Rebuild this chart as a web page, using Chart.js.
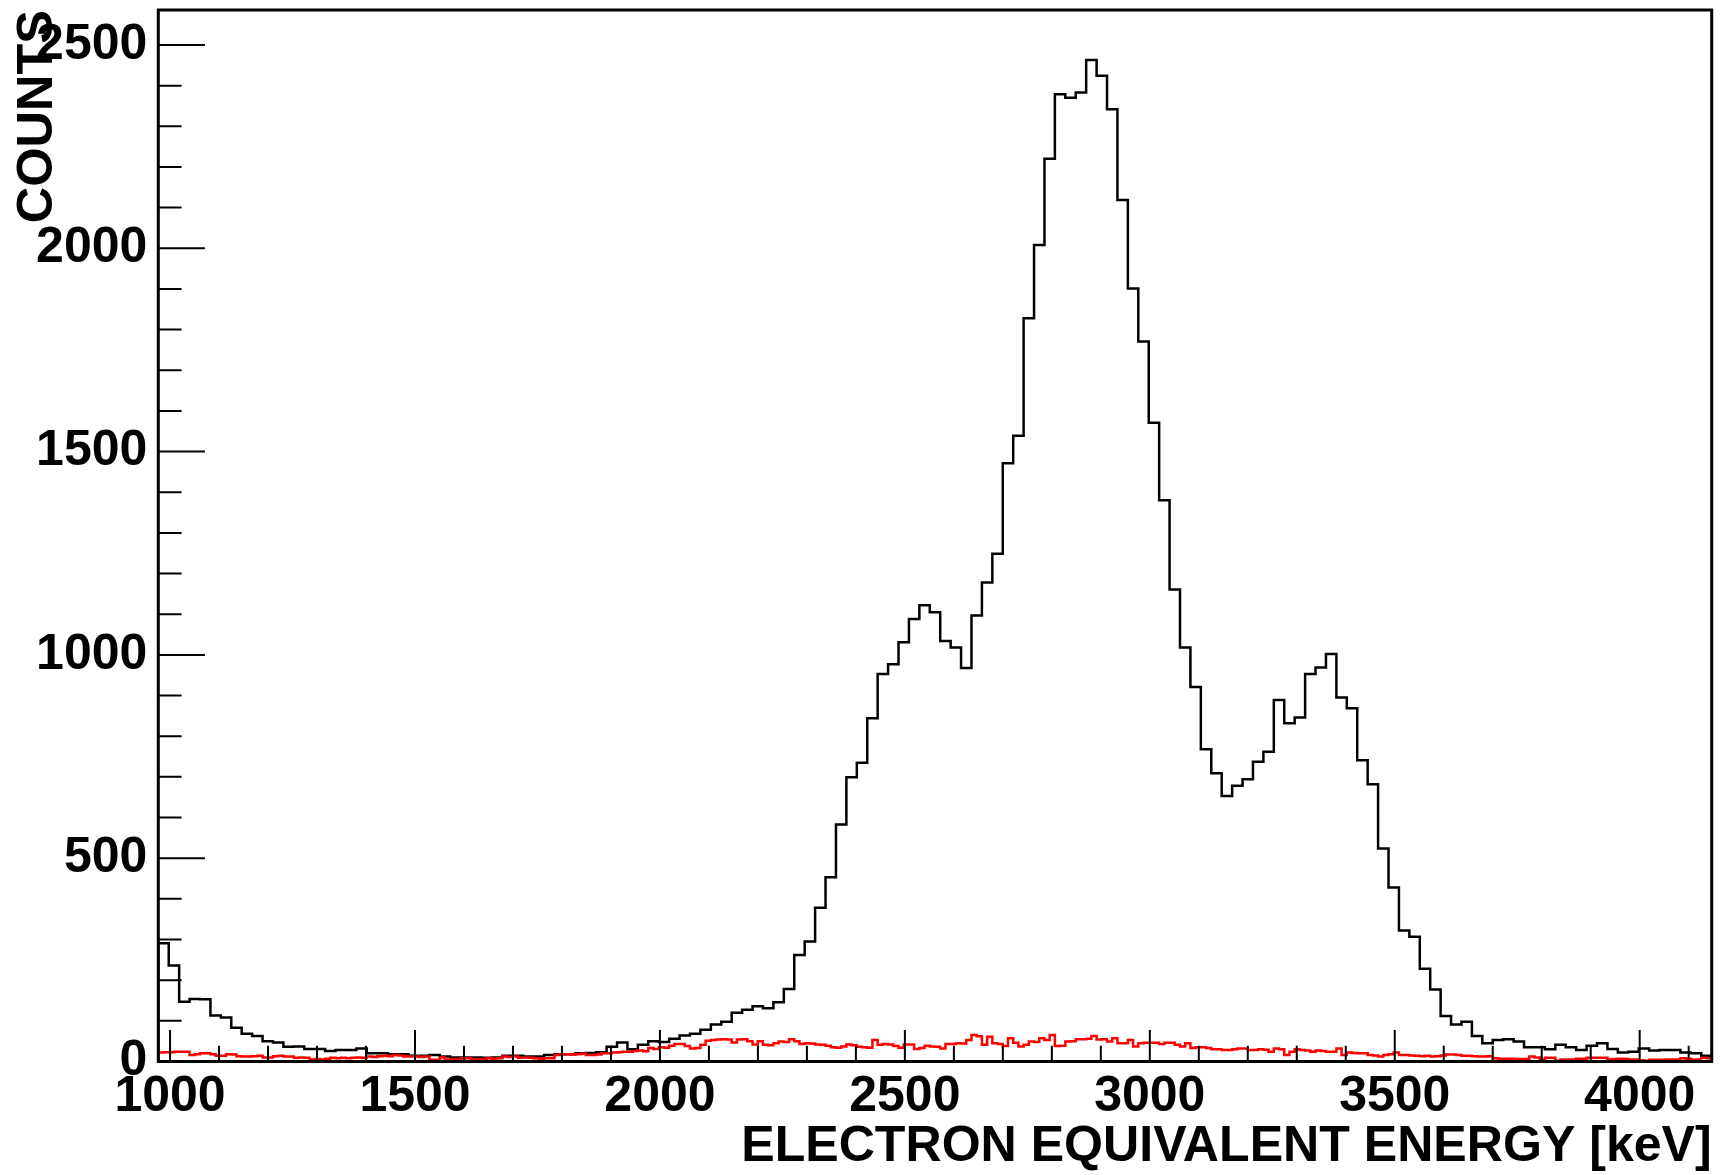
<!DOCTYPE html>
<html>
<head>
<meta charset="utf-8">
<script src="https://cdn.jsdelivr.net/npm/chart.js@4.4.1/dist/chart.umd.min.js"></script>
<style>
  html, body { margin: 0; padding: 0; background: #fff; }
  #wrap { width: 1722px; height: 1175px; position: relative; }
</style>
</head>
<body>
<div id="wrap"><canvas id="spectrum"></canvas></div>
<script>
// histogram range (keV) shared by both spectra
const E_MIN = 976;
const E_MAX = 4147;

// black spectrum, 149 bins
const blackCounts = [
  291, 236, 147, 154, 153, 113, 108, 83, 68, 63,
  50, 47, 36, 37, 31, 31, 26, 28, 28, 32,
  20, 20, 18, 18, 14, 14, 16, 12, 10, 10,
  10, 9, 10, 14, 14, 12, 12, 16, 18, 18,
  20, 21, 23, 36, 47, 30, 41, 50, 48, 56,
  64, 68, 78, 91, 98, 120, 127, 136, 131, 146,
  178, 262, 295, 378, 453, 583, 699, 735, 844, 953,
  977, 1031, 1088, 1122, 1105, 1034, 1018, 968, 1097, 1178,
  1249, 1471, 1539, 1828, 2008, 2220, 2379, 2370, 2383, 2463,
  2424, 2342, 2119, 1901, 1771, 1571, 1380, 1161, 1018, 921,
  768, 709, 653, 678, 694, 737, 762, 889, 832, 846,
  953, 969, 1002, 895, 869, 741, 682, 524, 428, 322,
  307, 228, 177, 112, 91, 98, 63, 45, 53, 55,
  49, 35, 35, 30, 41, 35, 28, 39, 45, 31,
  22, 24, 32, 27, 28, 28, 22, 20, 14
];

// red spectrum, 298 bins (half the black bin width)
const redCounts = [
  22, 23, 23, 24, 24, 24, 16, 18, 20, 20,
  18, 14, 14, 18, 17, 13, 12, 12, 13, 14,
  10, 10, 13, 14, 12, 12, 9, 10, 9, 5,
  6, 5, 7, 9, 8, 9, 8, 9, 10, 9,
  12, 11, 13, 14, 13, 16, 15, 12, 12, 12,
  11, 12, 4, 4, 10, 5, 6, 5, 8, 8,
  5, 6, 5, 8, 7, 8, 12, 11, 12, 9,
  10, 9, 8, 7, 8, 8, 16, 17, 18, 17,
  18, 19, 16, 16, 17, 20, 20, 22, 23, 24,
  24, 26, 27, 25, 33, 31, 35, 34, 39, 43,
  43, 38, 32, 33, 41, 51, 53, 54, 55, 54,
  47, 54, 55, 50, 42, 50, 41, 40, 45, 49,
  48, 55, 50, 43, 45, 44, 42, 41, 39, 35,
  34, 37, 42, 40, 36, 35, 34, 53, 41, 43,
  42, 38, 34, 42, 42, 31, 33, 39, 37, 36,
  32, 43, 43, 45, 44, 53, 65, 62, 41, 61,
  45, 43, 38, 57, 46, 37, 41, 49, 48, 57,
  53, 65, 38, 39, 49, 50, 55, 55, 56, 63,
  54, 55, 49, 57, 45, 45, 53, 37, 45, 46,
  46, 46, 43, 46, 46, 41, 37, 45, 33, 35,
  35, 33, 30, 30, 28, 28, 30, 32, 32, 28,
  28, 30, 29, 24, 32, 30, 16, 24, 30, 28,
  27, 24, 27, 26, 24, 24, 32, 16, 22, 21,
  20, 20, 16, 15, 12, 16, 18, 22, 16, 16,
  15, 14, 13, 14, 12, 13, 15, 17, 17, 16,
  14, 14, 13, 12, 12, 13, 8, 7, 7, 7,
  6, 6, 6, 12, 10, 5, 9, 9, 2, 5,
  5, 5, 7, 7, 9, 9, 9, 9, 5, 6,
  7, 6, 5, 5, 3, 2, 4, 4, 4, 5,
  5, 5, 8, 7, 5, 5, 9, 8
];

const Y_MAX = 2586;
const xTitle = 'ELECTRON EQUIVALENT ENERGY [keV]';
const yTitle = 'COUNTS';

const FONT = "'Liberation Sans', Arial, Helvetica, sans-serif";

// turn bin contents into step points (left edge of each bin, closed to zero at both ends)
function histPoints(counts) {
  const w = (E_MAX - E_MIN) / counts.length;
  const pts = [{ x: E_MIN, y: 0 }];
  counts.forEach((c, i) => pts.push({ x: E_MIN + i * w, y: c }));
  pts.push({ x: E_MAX, y: counts[counts.length - 1] });
  pts.push({ x: E_MAX, y: 0 });
  return pts;
}

// ROOT-like frame with inward ticks
const frameTicks = {
  id: 'frameTicks',
  afterDraw(chart) {
    const { ctx, chartArea: a, scales } = chart;
    const xs = scales.x, ys = scales.y;
    const xLen = (a.bottom - a.top) * 0.03;
    const yLen = (a.right - a.left) * 0.03;
    ctx.save();
    ctx.strokeStyle = '#000';
    ctx.lineWidth = 2;
    ctx.beginPath();
    xs.ticks.forEach(t => {
      const px = xs.getPixelForValue(t.value);
      const len = t.value % 500 === 0 ? xLen : xLen / 2;
      ctx.moveTo(px, a.bottom);
      ctx.lineTo(px, a.bottom - len);
    });
    ys.ticks.forEach(t => {
      const py = ys.getPixelForValue(t.value);
      const len = t.value % 500 === 0 ? yLen : yLen / 2;
      ctx.moveTo(a.left, py);
      ctx.lineTo(a.left + len, py);
    });
    ctx.stroke();
    ctx.lineWidth = 3;
    ctx.strokeRect(a.left, a.top, a.right - a.left, a.bottom - a.top);
    ctx.restore();
  }
};

new Chart(document.getElementById('spectrum').getContext('2d'), {
  type: 'line',
  data: {
    datasets: [{
      label: 'red',
      data: histPoints(redCounts),
      borderColor: '#ff0000',
      borderWidth: 2.5,
      stepped: 'before',
      pointRadius: 0,
      fill: false,
      order: 0
    }, {
      label: 'black',
      data: histPoints(blackCounts),
      borderColor: '#000000',
      borderWidth: 2.5,
      stepped: 'before',
      pointRadius: 0,
      fill: false,
      order: 1
    }]
  },
  options: {
    responsive: true,
    maintainAspectRatio: false,
    animation: false,
    layout: { padding: { top: 10, right: 10.3, left: 0, bottom: 0 } },
    plugins: {
      legend: { display: false },
      tooltip: { enabled: false }
    },
    scales: {
      x: {
        type: 'linear',
        min: E_MIN,
        max: E_MAX,
        grid: { display: false, drawTicks: false },
        border: { display: false },
        ticks: {
          stepSize: 100,
          includeBounds: false,
          autoSkip: false,
          maxRotation: 0,
          padding: 11,
          color: '#000',
          font: { family: FONT, size: 50, weight: 'bold', lineHeight: 1 },
          callback: v => (v % 500 === 0 ? String(v) : '')
        },
        title: {
          display: true,
          text: xTitle,
          align: 'end',
          color: '#000',
          padding: { top: 0, bottom: 3 },
          font: { family: FONT, size: 50.1, weight: 'bold', lineHeight: 1 }
        },
        afterFit: s => {
          s.height = 113.5;
          s.paddingLeft = 0;
          s.paddingRight = 0;
        }
      },
      y: {
        type: 'linear',
        min: 0,
        max: Y_MAX,
        grid: { display: false, drawTicks: false },
        border: { display: false },
        ticks: {
          stepSize: 100,
          includeBounds: false,
          autoSkip: false,
          padding: 11,
          color: '#000',
          font: { family: FONT, size: 50, weight: 'bold', lineHeight: 1 },
          callback: v => (v % 500 === 0 ? String(v) : '')
        },
        title: {
          display: true,
          text: yTitle,
          align: 'end',
          color: '#000',
          padding: { top: 13, bottom: 0 },
          font: { family: FONT, size: 50.5, weight: 'bold', lineHeight: 1 }
        },
        afterFit: s => {
          s.width = 158.3;
          s.paddingTop = 0;
          s.paddingBottom = 0;
        }
      }
    }
  },
  plugins: [frameTicks]
});
</script>
</body>
</html>
